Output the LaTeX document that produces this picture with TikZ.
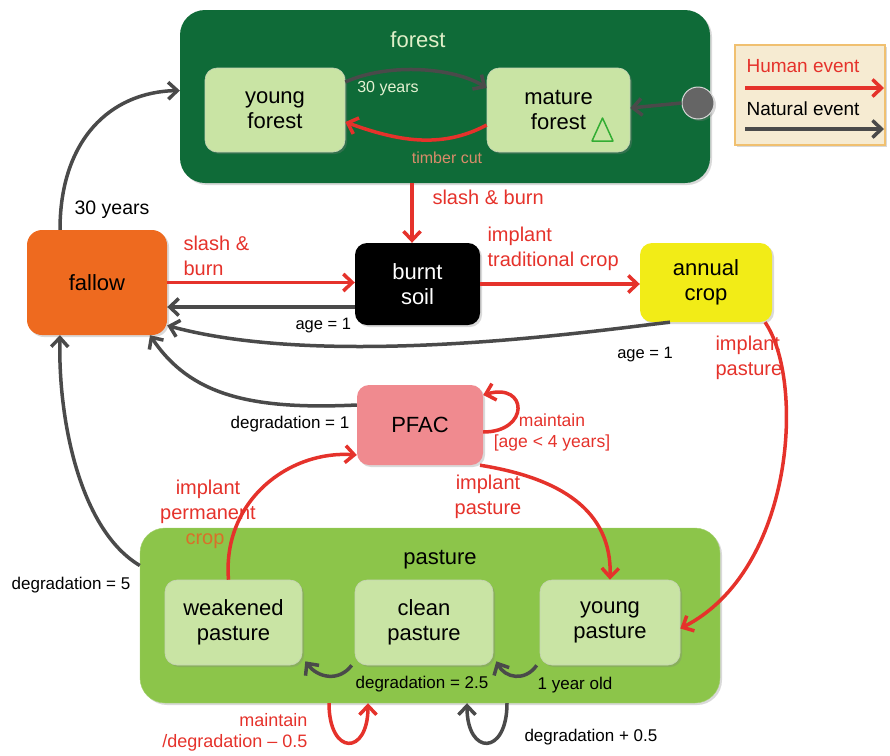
\documentclass[tikz,border=0pt]{standalone}
\usepackage{fontspec}
\setmainfont{Liberation Sans}
\usetikzlibrary{arrows.meta,shadows}
\definecolor{hred}{HTML}{E5322B}
\definecolor{ngray}{HTML}{4A4A4A}
\definecolor{fgreen}{HTML}{0F6B38}
\definecolor{lgreen}{HTML}{C9E4A4}
\definecolor{pgreen}{HTML}{8CC54A}
\definecolor{forange}{HTML}{EE6A1F}
\definecolor{cyellow}{HTML}{F2EC17}
\definecolor{ppink}{HTML}{F08A8F}
\definecolor{legfill}{HTML}{F6EBD2}
\definecolor{legdraw}{HTML}{F0C070}
\definecolor{timber}{HTML}{D98C6A}
\definecolor{cropc}{HTML}{D8702A}
\tikzset{
  shad/.style={drop shadow={opacity=0.3,shadow xshift=2pt,shadow yshift=-2pt}},
  bigtxt/.style={font=\fontsize{22}{25}\selectfont,align=center},
  statebox/.style={bigtxt,rounded corners=12pt,shad},
  inner/.style={statebox,fill=lgreen,draw=lgreen!80!black!60,line width=0.6pt},
  human/.style={draw=hred,line width=3.5pt,-{Straight Barb[length=9pt,width=17pt]}},
  natural/.style={draw=ngray,line width=3.5pt,-{Straight Barb[length=9pt,width=17pt]}},
  hlab/.style={text=hred,font=\fontsize{20}{24.5}\selectfont,align=left},
  nlab/.style={text=black,font=\fontsize{17}{20}\selectfont},
}
\begin{document}
\begin{tikzpicture}[x=1pt,y=-1pt]
\useasboundingbox (0,0) rectangle (890,755);
% containers
\node[fill=fgreen,rounded corners=25pt,minimum width=530pt,minimum height=173pt,shad] (forest) at (445,96.5) {};
\node[text=lgreen!60!white,font=\fontsize{22}{25}\selectfont] (forestt) at (418,40) {forest};
\node[fill=pgreen,draw=pgreen!80!white,rounded corners=25pt,minimum width=580pt,minimum height=175pt,shad] (pasture) at (430,615.5) {};
\node[bigtxt] (pasturet) at (440,560) {pasture};
% inner states
\node[inner,minimum width=140pt,minimum height=84pt] (yf) at (275,110) {young\\forest};
\node[inner,minimum width=143pt,minimum height=84pt] (mf) at (558.5,110) {mature\\forest};
\draw[draw=green!60!black!80,line width=1.5pt,line join=round] (592,141) -- (613,141) -- (602.5,118) -- cycle;
\node[inner,minimum width=137pt,minimum height=85pt] (wp) at (233.5,622.5) {weakened\\pasture};
\node[inner,minimum width=138pt,minimum height=85pt] (cp) at (424,622.5) {clean\\pasture};
\node[inner,minimum width=140pt,minimum height=85pt] (yp) at (610,622.5) {young\\pasture};
% outer states
\node[statebox,fill=forange,rounded corners=15pt,minimum width=140pt,minimum height=105pt] (fallow) at (97,282.5) {fallow};
\node[statebox,fill=black,text=white,minimum width=125pt,minimum height=82pt] (burnt) at (417.5,284) {burnt\\soil};
\node[statebox,fill=cyellow,minimum width=132pt,minimum height=79pt] (annual) at (706,282.5) {annual\\crop};
\node[statebox,fill=ppink,minimum width=126pt,minimum height=80pt] (pfac) at (420,425) {PFAC};
% initial
\node[circle,fill=ngray!85!white,draw=white!85!black,line width=1pt,minimum size=32pt,shad] (init) at (698,103) {};
% legend
\node[fill=legfill,draw=legdraw,line width=1.5pt,minimum width=150pt,minimum height=100pt,shad] (legend) at (810,95) {};
\node[text=hred,font=\fontsize{19}{22}\selectfont,anchor=west] (lh) at (743,66) {Human event};
\node[text=black,font=\fontsize{19}{22}\selectfont,anchor=west] (ln) at (743,109) {Natural event};
\coordinate (lh1) at (745,88); \coordinate (lh2) at (884,88);
\coordinate (ln1) at (745,129); \coordinate (ln2) at (884,129);
\draw[human] (lh1) -- (lh2);
\draw[natural] (ln1) -- (ln2);

% forest internal
\draw[natural] ([yshift=28pt]yf.east) .. controls (390,62) and (455,68) .. ([yshift=22pt]mf.west);
\node[text=lgreen!50!white,font=\fontsize{16}{19}\selectfont] (l30a) at (388,89) {30 years};
\draw[human] ([yshift=-15pt]mf.west) .. controls (440,150) and (395,140) .. ([yshift=-12pt]yf.east);
\node[text=timber,font=\fontsize{16}{19}\selectfont] (ltc) at (447,158) {timber cut};
\draw[natural] (init.west) -- ([yshift=2pt]mf.east);

% forest -> burnt
\draw[human] ([xshift=-33pt]forest.south) -- ([xshift=-5.5pt]burnt.north);
\node[hlab,anchor=west] (lsb) at (429,197) {slash \& burn};

% fallow -> forest
\draw[natural] ([xshift=-37pt]fallow.north) .. controls (60,140) and (110,92) .. ([yshift=6pt]forest.west);
\node[text=black,font=\fontsize{19.5}{22}\selectfont] (l30b) at (112,210) {30 years};

% fallow <-> burnt
\draw[human] (fallow.east) -- (fallow.east -| burnt.west);
\node[hlab,anchor=west] (lsb2) at (180,256) {slash \&\\burn};
\draw[natural] ([yshift=-23pt]burnt.west) -- ([yshift=-23pt]burnt.west -| fallow.east);
\node[nlab,anchor=west,font=\fontsize{16.5}{19}\selectfont] (lage1) at (292,326) {age = 1};

% burnt -> annual
\draw[human] (burnt.east) -- (burnt.east -| annual.west);
\node[hlab,anchor=west] (lit) at (484,249) {implant\\traditional crop};

% annual -> fallow
\draw[natural] ([xshift=-36pt]annual.south) .. controls (600,330) and (330,370) .. ([yshift=-43pt]fallow.east);
\node[nlab,font=\fontsize{16.5}{19}\selectfont] (lage2) at (645,355) {age = 1};

% annual -> young pasture
\draw[human] ([xshift=59pt]annual.south) .. controls (805,380) and (795,570) .. ([yshift=-6pt]yp.east);
\node[hlab,anchor=west] (lip1) at (712,358) {implant\\pasture};

% PFAC -> fallow
\draw[natural] ([yshift=20pt]pfac.west) .. controls (250,410) and (190,395) .. ([xshift=53pt]fallow.south);
\node[nlab] (ldeg1) at (290,424) {degradation = 1};

% PFAC self loop
\draw[human] ([yshift=-7pt]pfac.east) .. controls (530,432) and (528,382) .. ([yshift=30pt]pfac.east);
\node[hlab,align=center,font=\fontsize{17.5}{21}\selectfont] (lmain) at (552,432) {maintain\\{}[age < 4 years]};

% weakened -> PFAC
\draw[human] ([xshift=-5pt]wp.north) .. controls (222,500) and (290,450) .. ([yshift=-30pt]pfac.west);
\node[hlab,align=center] (lipc) at (208,502) {implant\\permanent};
\node[text=cropc,font=\fontsize{20}{24}\selectfont] (lcrop) at (205,541) {crop};

% PFAC -> young pasture
\draw[human] ([xshift=60pt]pfac.south) .. controls (560,478) and (612,510) .. ([yshift=0pt]yp.north);
\node[hlab,align=center] (lip2) at (488,497) {implant\\pasture};

% pasture -> fallow
\draw[natural] ([yshift=50pt]pasture.west) .. controls (80,530) and (58,420) .. ([xshift=-37pt]fallow.south);
\node[nlab] (ldeg5) at (71,585) {degradation = 5};

% pasture internal degradation
\draw[natural] ([xshift=-3pt]yp.south west) .. controls (525,682) and (505,678) .. ([xshift=3pt,yshift=4pt]cp.south east);
\draw[natural] ([xshift=-3pt]cp.south west) .. controls (339,682) and (318,678) .. ([xshift=3pt,yshift=4pt]wp.south east);
\node[nlab] (ldeg25) at (422,684) {degradation = 2.5};
\node[nlab] (l1y) at (575,685) {1 year old};

% self loops under pasture
\draw[human] ([xshift=-101pt]pasture.south) .. controls (329,756) and (368,756) .. ([xshift=-62pt]pasture.south);
\node[hlab,align=right,anchor=east,font=\fontsize{18}{21}\selectfont] (lmd) at (311,732) {maintain\\/degradation – 0.5};
\draw[natural] ([xshift=77pt]pasture.south) .. controls (507,756) and (467,756) .. ([xshift=37pt]pasture.south);
\node[nlab,anchor=west] (ldp) at (521,737) {degradation + 0.5};
\end{tikzpicture}
\end{document}
